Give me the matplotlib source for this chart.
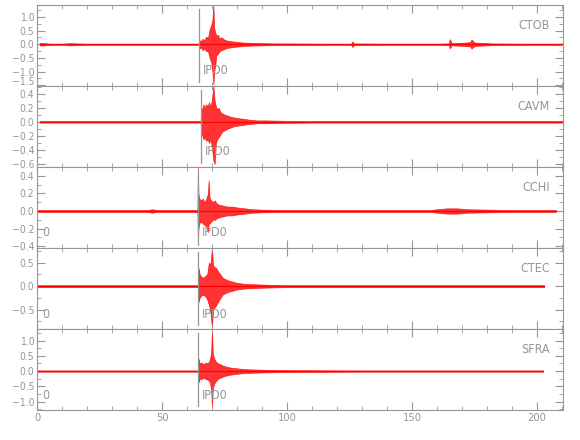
import matplotlib
matplotlib.use("Agg")
import matplotlib.pyplot as plt
import matplotlib.transforms as mtransforms
from matplotlib.ticker import MultipleLocator
import numpy as np

plt.rcParams['font.family'] = ['DejaVu Sans']
plt.rcParams['font.stretch'] = 'condensed'

# station names, top to bottom
stations = ["CTOB", "CAVM", "CCHI", "CTEC", "SFRA"]

# pick time (IPD0) per station, seconds
picks = [64.8, 65.5, 64.3, 64.5, 64.5]

# envelope of each trace: time, upper and lower amplitude
t_ctob = [1, 2, 4, 6, 10, 13, 16, 20, 40, 60,
          64.7, 64.9, 65.5, 66.2, 66.9, 67.6, 68.3, 69.0, 69.6, 70.1,
          70.5, 70.8, 71.2, 71.7, 72.3, 73.0, 73.8, 74.7, 75.7, 77.0,
          78.5, 80.5, 83, 86, 90, 95, 100, 115, 125.6, 126.1,
          126.8, 140, 160, 164.6, 165.1, 165.8, 168, 171, 173.3, 173.7,
          175, 178, 182, 195, 210]
up_ctob = [0.04, 0.05, 0.03, 0.02, 0.02, 0.04, 0.03, 0.02, 0.02, 0.02,
           0.02, 0.15, 0.12, 0.20, 0.15, 0.28, 0.22, 0.55, 0.70, 0.90,
           1.44, 0.60, 0.45, 0.30, 0.35, 0.22, 0.25, 0.18, 0.14, 0.12,
           0.10, 0.08, 0.06, 0.05, 0.04, 0.03, 0.03, 0.02, 0.02, 0.10,
           0.03, 0.02, 0.02, 0.03, 0.19, 0.04, 0.05, 0.06, 0.08, 0.18,
           0.06, 0.05, 0.03, 0.02, 0.02]
lo_ctob = [-0.04, -0.05, -0.03, -0.02, -0.02, -0.04, -0.03, -0.02, -0.02, -0.02,
           -0.02, -0.15, -0.12, -0.22, -0.15, -0.25, -0.25, -0.50, -0.65, -1.00,
           -1.46, -1.00, -0.80, -0.40, -0.35, -0.25, -0.22, -0.18, -0.14, -0.12,
           -0.10, -0.08, -0.06, -0.05, -0.04, -0.03, -0.03, -0.02, -0.02, -0.10,
           -0.03, -0.02, -0.02, -0.03, -0.15, -0.04, -0.05, -0.06, -0.08, -0.16,
           -0.06, -0.05, -0.03, -0.02, -0.02]

t_cavm = [1, 20, 40, 60, 65.4,
          65.6, 66.0, 66.5, 67.0, 67.6,
          68.2, 68.8, 69.4, 70.0, 70.5,
          71.0, 71.5, 72.0, 72.6, 73.3,
          74.0, 75.0, 76.0, 77.5, 79,
          81, 83, 85, 88, 92,
          98, 110, 130, 160, 190, 210]
up_cavm = [0.01, 0.01, 0.01, 0.01, 0.01,
           0.22, 0.15, 0.25, 0.20, 0.25,
           0.22, 0.28, 0.20, 0.35, 0.51,
           0.30, 0.22, 0.18, 0.20, 0.14,
           0.12, 0.10, 0.09, 0.07, 0.06,
           0.05, 0.04, 0.03, 0.02, 0.02,
           0.015, 0.01, 0.01, 0.01, 0.01, 0.01]
lo_cavm = [-0.01, -0.01, -0.01, -0.01, -0.01,
           -0.20, -0.18, -0.25, -0.22, -0.27,
           -0.25, -0.30, -0.25, -0.40, -0.55,
           -0.60, -0.30, -0.25, -0.22, -0.18,
           -0.14, -0.12, -0.10, -0.08, -0.06,
           -0.05, -0.04, -0.03, -0.02, -0.02,
           -0.015, -0.01, -0.01, -0.01, -0.01, -0.01]

t_cchi = [0, 20, 44, 46, 48,
          60, 64.1, 64.3, 64.5, 64.9,
          65.5, 66.2, 67.0, 67.8, 68.3,
          68.6, 69.0, 69.6, 70.3, 71.0,
          72.0, 73.0, 74.5, 76, 78,
          80, 83, 86, 90, 100,
          130, 157, 160, 164, 166,
          168, 172, 190, 207.5]
up_cchi = [0.01, 0.01, 0.01, 0.02, 0.01,
           0.01, 0.01, 0.50, 0.20, 0.14,
           0.12, 0.14, 0.10, 0.15, 0.20,
           0.35, 0.15, 0.12, 0.10, 0.12,
           0.08, 0.07, 0.06, 0.05, 0.05,
           0.04, 0.03, 0.02, 0.015, 0.01,
           0.01, 0.01, 0.02, 0.03, 0.03,
           0.03, 0.02, 0.01, 0.01]
lo_cchi = [-0.01, -0.01, -0.01, -0.02, -0.01,
           -0.01, -0.01, -0.39, -0.20, -0.14,
           -0.12, -0.14, -0.16, -0.18, -0.24,
           -0.15, -0.14, -0.12, -0.10, -0.10,
           -0.08, -0.07, -0.06, -0.05, -0.05,
           -0.04, -0.03, -0.02, -0.015, -0.01,
           -0.01, -0.01, -0.02, -0.03, -0.03,
           -0.03, -0.02, -0.01, -0.01]

t_ctec = [0, 30, 60, 64.4, 64.6,
          65.0, 65.7, 66.5, 67.3, 68.0,
          68.7, 69.3, 69.9, 70.4, 71.0,
          71.7, 72.5, 73.3, 74.2, 75.2,
          76.5, 78, 80, 83, 87,
          92, 100, 130, 170, 202.8]
up_ctec = [0.02, 0.02, 0.02, 0.02, 0.38,
           0.25, 0.20, 0.18, 0.22, 0.25,
           0.50, 0.45, 0.81, 0.45, 0.40,
           0.38, 0.30, 0.25, 0.18, 0.15,
           0.12, 0.10, 0.07, 0.05, 0.04,
           0.03, 0.02, 0.02, 0.02, 0.02]
lo_ctec = [-0.02, -0.02, -0.02, -0.02, -0.33,
           -0.25, -0.20, -0.18, -0.22, -0.28,
           -0.40, -0.55, -0.86, -0.50, -0.45,
           -0.40, -0.32, -0.25, -0.18, -0.15,
           -0.12, -0.10, -0.07, -0.05, -0.04,
           -0.03, -0.02, -0.02, -0.02, -0.02]

t_sfra = [0, 30, 60, 64.4, 64.6,
          65.0, 65.8, 66.6, 67.4, 68.2,
          69.0, 69.6, 69.9, 70.3, 70.9,
          71.6, 72.4, 73.3, 74.3, 75.5,
          77, 79, 81, 84, 88,
          93, 100, 130, 170, 202.4]
up_sfra = [0.02, 0.02, 0.02, 0.02, 0.40,
           0.25, 0.28, 0.22, 0.28, 0.25,
           0.35, 0.60, 1.35, 0.55, 0.40,
           0.30, 0.25, 0.22, 0.18, 0.15,
           0.12, 0.10, 0.08, 0.06, 0.05,
           0.04, 0.03, 0.02, 0.02, 0.02]
lo_sfra = [-0.02, -0.02, -0.02, -0.02, -0.37,
           -0.25, -0.26, -0.22, -0.26, -0.28,
           -0.35, -0.60, -1.19, -0.55, -0.40,
           -0.32, -0.25, -0.22, -0.18, -0.15,
           -0.12, -0.10, -0.08, -0.06, -0.05,
           -0.04, -0.03, -0.02, -0.02, -0.02]

times = [t_ctob, t_cavm, t_cchi, t_ctec, t_sfra]
uppers = [up_ctob, up_cavm, up_cchi, up_ctec, up_sfra]
lowers = [lo_ctob, lo_cavm, lo_cchi, lo_ctec, lo_sfra]

# y ranges and tick spacing per panel
ylims = [(-1.52, 1.44), (-0.64, 0.51), (-0.42, 0.50), (-0.91, 0.81), (-1.28, 1.38)]
ymajor = [0.5, 0.2, 0.2, 0.5, 0.5]
yminor = [0.25, 0.1, 0.1, 0.25, 0.25]
show_zero = [False, False, True, True, True]

grey = "#969696"

fig, axes = plt.subplots(5, 1, sharex=True, figsize=(5.8, 4.4), dpi=100)
fig.subplots_adjust(left=0.064, right=0.971, top=0.989, bottom=0.068, hspace=0)

for i, ax in enumerate(axes):
    t = np.array(times[i])
    ax.fill_between(t, lowers[i], uppers[i], color="red", alpha=0.8, lw=0.5)
    ax.plot(t, np.zeros_like(t), color="red", lw=0.9)
    ax.axvline(picks[i], ymin=0.05, ymax=0.95, color=grey, lw=0.9)
    ax.text(picks[i] + 1.4, 0.185, "IPD0", transform=ax.get_xaxis_transform(),
            color=grey, fontsize=9, va="center", ha="left")
    if show_zero[i]:
        ax.text(2.0, 0.185, "0", transform=ax.get_xaxis_transform(),
                color=grey, fontsize=9, va="center", ha="left")
    ax.text(0.975, 0.75, stations[i], transform=ax.transAxes,
            color=grey, fontsize=9, va="center", ha="right")

    ax.set_ylim(*ylims[i])
    ax.set_xlim(0, 210.4)
    ax.yaxis.set_major_locator(MultipleLocator(ymajor[i]))
    ax.yaxis.set_minor_locator(MultipleLocator(yminor[i]))
    ax.xaxis.set_major_locator(MultipleLocator(50))
    ax.xaxis.set_minor_locator(MultipleLocator(10))
    ax.tick_params(which="both", direction="in", top=True, right=True,
                   colors=grey, labelcolor=grey, labelsize=7.5, pad=2)
    ax.tick_params(which="major", length=6)
    ax.tick_params(which="minor", length=3)
    ax.yaxis.set_major_formatter(plt.FuncFormatter(lambda v, p: f"{v:.1f}".replace("-", "\u2212")))
    for s in ax.spines.values():
        s.set_color(grey)
        s.set_linewidth(0.8)

axes[-1].xaxis.set_major_formatter(plt.FuncFormatter(lambda v, p: f"{v:.0f}"))
axes[-1].tick_params(axis="x", labelsize=8)

# the lowest label of the top panel sits on the panel edge; nudge it up a little
fig.canvas.draw()
lift = mtransforms.ScaledTranslation(0, 3 / 72, fig.dpi_scale_trans)
for lab in axes[0].get_yticklabels():
    if lab.get_text() == "\u22121.5":
        lab.set_transform(lab.get_transform() + lift)

fig.savefig("out.png")
